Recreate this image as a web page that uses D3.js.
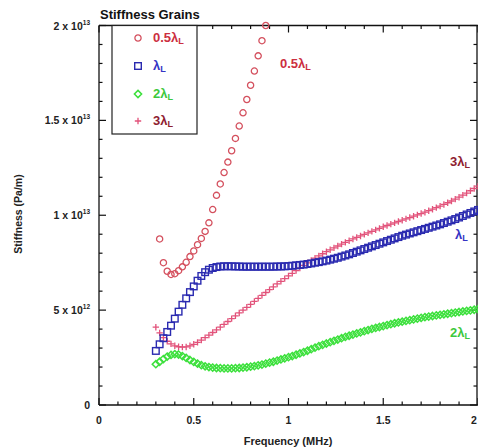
<!DOCTYPE html>
<html>
<head>
<meta charset="utf-8">
<script src="https://cdn.jsdelivr.net/npm/d3@7"></script>
<style>
  html, body { margin: 0; padding: 0; background: #fff; }
  svg { display: block; }
  text { font-family: "Liberation Sans", Arial, sans-serif; }
</style>
</head>
<body>
<svg id="chart" width="478" height="447"></svg>
<script>
// Stiffness in units of 10^12 Pa/m against frequency in MHz.
const freqs = [
  0.30, 0.32, 0.34, 0.36, 0.38, 0.40, 0.42, 0.44, 0.46, 0.48,
  0.50, 0.52, 0.54, 0.56, 0.58, 0.60, 0.62, 0.64, 0.66, 0.68,
  0.70, 0.72, 0.74, 0.76, 0.78, 0.80, 0.82, 0.84, 0.86, 0.88,
  0.90, 0.92, 0.94, 0.96, 0.98, 1.00, 1.02, 1.04, 1.06, 1.08,
  1.10, 1.12, 1.14, 1.16, 1.18, 1.20, 1.22, 1.24, 1.26, 1.28,
  1.30, 1.32, 1.34, 1.36, 1.38, 1.40, 1.42, 1.44, 1.46, 1.48,
  1.50, 1.52, 1.54, 1.56, 1.58, 1.60, 1.62, 1.64, 1.66, 1.68,
  1.70, 1.72, 1.74, 1.76, 1.78, 1.80, 1.82, 1.84, 1.86, 1.88,
  1.90, 1.92, 1.94, 1.96, 1.98, 2.00
];

// 0.5 lambda_L only covers the low-frequency end
const freqsHalf = [
  0.32, 0.34, 0.36, 0.38, 0.40, 0.42, 0.44, 0.46, 0.48, 0.50,
  0.52, 0.54, 0.56, 0.58, 0.60, 0.62, 0.64, 0.66, 0.68, 0.70,
  0.72, 0.74, 0.76, 0.78, 0.80, 0.82, 0.84, 0.86, 0.88
];
const halfLambda = [
  8.75, 7.50, 7.05, 6.88, 6.92, 7.08, 7.28, 7.52, 7.82, 8.12,
  8.45, 8.78, 9.15, 9.60, 10.30, 11.05, 11.65, 12.25, 12.80, 13.40,
  14.05, 14.70, 15.40, 16.10, 16.85, 17.60, 18.40, 19.20, 20.00
];

const oneLambda = [
  2.85, 3.20, 3.52, 3.85, 4.18, 4.55, 4.92, 5.28, 5.62, 5.95,
  6.25, 6.55, 6.80, 7.00, 7.13, 7.22, 7.27, 7.30, 7.31, 7.31,
  7.31, 7.30, 7.30, 7.29, 7.29, 7.29, 7.29, 7.29, 7.29, 7.29,
  7.29, 7.29, 7.30, 7.30, 7.31, 7.32, 7.34, 7.36, 7.38, 7.40,
  7.43, 7.46, 7.50, 7.53, 7.57, 7.61, 7.66, 7.71, 7.76, 7.82,
  7.88, 7.94, 8.01, 8.08, 8.15, 8.22, 8.29, 8.36, 8.43, 8.50,
  8.57, 8.64, 8.71, 8.78, 8.85, 8.92, 8.98, 9.04, 9.10, 9.16,
  9.22, 9.28, 9.34, 9.40, 9.46, 9.52, 9.59, 9.66, 9.73, 9.80,
  9.88, 9.96, 10.04, 10.12, 10.20, 10.28
];

const twoLambda = [
  2.15, 2.28, 2.42, 2.55, 2.64, 2.68, 2.66, 2.58, 2.48, 2.37,
  2.27, 2.18, 2.10, 2.04, 2.00, 1.97, 1.95, 1.94, 1.93, 1.93,
  1.93, 1.94, 1.95, 1.97, 1.99, 2.02, 2.05, 2.09, 2.13, 2.18,
  2.23, 2.28, 2.34, 2.40, 2.46, 2.52, 2.58, 2.65, 2.72, 2.79,
  2.86, 2.94, 3.02, 3.10, 3.17, 3.24, 3.31, 3.38, 3.45, 3.52,
  3.59, 3.65, 3.71, 3.77, 3.83, 3.89, 3.95, 4.01, 4.06, 4.11,
  4.16, 4.21, 4.26, 4.31, 4.35, 4.39, 4.43, 4.47, 4.51, 4.55,
  4.59, 4.63, 4.66, 4.69, 4.72, 4.75, 4.78, 4.81, 4.84, 4.87,
  4.90, 4.93, 4.96, 4.99, 5.02, 5.05
];

const threeLambda = [
  4.10, 3.80, 3.55, 3.36, 3.22, 3.12, 3.07, 3.05, 3.06, 3.12,
  3.20, 3.30, 3.42, 3.55, 3.68, 3.82, 3.96, 4.10, 4.25, 4.40,
  4.55, 4.70, 4.85, 5.00, 5.15, 5.30, 5.46, 5.62, 5.78, 5.93,
  6.08, 6.23, 6.38, 6.52, 6.66, 6.80, 6.94, 7.08, 7.22, 7.36,
  7.49, 7.62, 7.74, 7.86, 7.97, 8.08, 8.18, 8.28, 8.38, 8.48,
  8.57, 8.66, 8.75, 8.83, 8.91, 8.99, 9.07, 9.15, 9.23, 9.31,
  9.39, 9.46, 9.53, 9.60, 9.67, 9.74, 9.81, 9.88, 9.95, 10.02,
  10.09, 10.16, 10.24, 10.32, 10.40, 10.48, 10.57, 10.66, 10.75, 10.85,
  10.95, 11.06, 11.17, 11.29, 11.41, 11.53
];

const xMajorTicks = [0, 0.5, 1, 1.5, 2];
const xTickLabels = ["0", "0.5", "1", "1.5", "2"];
const yMajorTicks = [0, 5, 10, 15, 20];
const yTickMantissa = ["0", "5", "1", "1.5", "2"];
const yTickExponent = ["", "12", "13", "13", "13"];

const seriesNames = ["0.5", "", "2", "3"];

// ---------------------------------------------------------------
const svg = d3.select("#chart");
const x = d3.scaleLinear().domain([0, 2]).range([99, 478]);
const y = d3.scaleLinear().domain([0, 20]).range([405, 25.5]);

const colors = {
  half: "#d4505e",
  one: "#2a2ab0",
  two: "#3ce03c",
  three: "#e2527a"
};

// plot frame
const frame = svg.append("g").attr("stroke", "#111").attr("stroke-width", 1.3).attr("fill", "none");
frame.append("line").attr("x1", x(0)).attr("x2", x(0)).attr("y1", y(0)).attr("y2", y(20));
frame.append("line").attr("x1", x(0)).attr("x2", x(2)).attr("y1", y(0)).attr("y2", y(0));
frame.append("line").attr("x1", x(0)).attr("x2", x(2)).attr("y1", y(20)).attr("y2", y(20));
frame.append("line").attr("x1", x(2) - 1).attr("x2", x(2) - 1).attr("y1", y(0)).attr("y2", y(20));

// inward ticks on all four sides
const xMinor = d3.range(0, 2.0001, 0.1).filter(v => Math.abs(v * 2 - Math.round(v * 2)) > 1e-6);
const yMinor = d3.range(0, 20.0001, 1).filter(v => v % 5 !== 0);
const ticks = svg.append("g").attr("stroke", "#111").attr("stroke-width", 1.2);
function xTick(v, len) {
  ticks.append("line").attr("x1", x(v)).attr("x2", x(v)).attr("y1", y(0)).attr("y2", y(0) - len);
  ticks.append("line").attr("x1", x(v)).attr("x2", x(v)).attr("y1", y(20)).attr("y2", y(20) + len);
}
function yTick(v, len) {
  ticks.append("line").attr("x1", x(0)).attr("x2", x(0) + len).attr("y1", y(v)).attr("y2", y(v));
  ticks.append("line").attr("x1", x(2) - 1).attr("x2", x(2) - 1 - len).attr("y1", y(v)).attr("y2", y(v));
}
xMajorTicks.forEach(v => xTick(v, 7));
xMinor.forEach(v => xTick(v, 3.5));
yMajorTicks.forEach(v => yTick(v, 7));
yMinor.forEach(v => yTick(v, 3.5));

// tick labels (the last one sits right at the page edge)
svg.append("g").selectAll("text").data(xMajorTicks).join("text")
  .attr("x", d => Math.min(x(d), 474)).attr("y", 424)
  .attr("text-anchor", "middle")
  .attr("font-size", 10.5).attr("font-weight", "bold").attr("fill", "#222")
  .text((d, i) => xTickLabels[i]);

const yl = svg.append("g").selectAll("text").data(yMajorTicks).join("text")
  .attr("x", 90).attr("y", d => y(d) + 4)
  .attr("text-anchor", "end")
  .attr("font-size", 10.5).attr("font-weight", "bold").attr("fill", "#222");
yl.each(function (d, i) {
  const t = d3.select(this);
  if (yTickExponent[i] === "") {
    t.text(yTickMantissa[i]);
  } else {
    t.append("tspan").text(yTickMantissa[i] + " x 10");
    t.append("tspan").attr("dy", -5).attr("font-size", 6.5).text(yTickExponent[i]);
  }
});

// titles
svg.append("text").attr("x", 100).attr("y", 19)
  .attr("font-size", 13).attr("font-weight", "bold").attr("fill", "#111")
  .text("Stiffness Grains");
svg.append("text").attr("x", 288).attr("y", 445)
  .attr("text-anchor", "middle")
  .attr("font-size", 11).attr("font-weight", "bold").attr("fill", "#222")
  .text("Frequency (MHz)");
svg.append("text")
  .attr("transform", "translate(22,214) rotate(-90)")
  .attr("text-anchor", "middle")
  .attr("font-size", 10.5).attr("font-weight", "bold").attr("fill", "#222")
  .text("Stiffness (Pa/m)");

// marker shapes
const markers = {
  circle: (g, c) => g.append("circle").attr("r", 3.1).attr("fill", "none").attr("stroke", c).attr("stroke-width", 1.3),
  square: (g, c) => g.append("rect").attr("x", -3.3).attr("y", -3.3).attr("width", 6.6).attr("height", 6.6)
    .attr("fill", "none").attr("stroke", c).attr("stroke-width", 1.4),
  diamond: (g, c) => g.append("path").attr("d", "M0,-3.6L3.6,0L0,3.6L-3.6,0Z")
    .attr("fill", "none").attr("stroke", c).attr("stroke-width", 1.5),
  plus: (g, c) => g.append("path").attr("d", "M-3.2,0H3.2M0,-3.2V3.2")
    .attr("fill", "none").attr("stroke", c).attr("stroke-width", 1.3)
};

function drawSeries(xs, vals, shape, color) {
  const g = svg.append("g");
  vals.forEach((v, i) => {
    const m = g.append("g").attr("transform", `translate(${x(xs[i])},${y(v)})`);
    markers[shape](m, color);
  });
}

drawSeries(freqs, twoLambda, "diamond", colors.two);
drawSeries(freqs, threeLambda, "plus", colors.three);
drawSeries(freqs, oneLambda, "square", colors.one);
drawSeries(freqsHalf, halfLambda, "circle", colors.half);

// lambda labels written in a serif bold face with subscript L
function lambdaLabel(parent, px, py, prefix, color, size) {
  const t = parent.append("text").attr("x", px).attr("y", py)
    .attr("font-family", "'Liberation Serif', 'Times New Roman', serif")
    .attr("font-weight", "bold").attr("font-size", size).attr("fill", color);
  t.append("tspan").text(prefix + "λ");
  t.append("tspan").attr("dy", 2).attr("font-size", size * 0.7).text("L");
  return t;
}

// legend
const legend = svg.append("g");
legend.append("rect").attr("x", 112).attr("y", 25.5).attr("width", 85).attr("height", 108.5)
  .attr("fill", "#fff").attr("stroke", "#222").attr("stroke-width", 1.2);
const legendRows = [
  { shape: "circle", mark: colors.half, text: "#cc2f40" },
  { shape: "square", mark: colors.one, text: "#3434c4" },
  { shape: "diamond", mark: colors.two, text: "#3cc83c" },
  { shape: "plus", mark: colors.three, text: "#8e2030" }
];
const rowY = [38, 66, 94, 121];
legendRows.forEach((r, i) => {
  const m = legend.append("g").attr("transform", `translate(138,${rowY[i]})`);
  markers[r.shape](m, r.mark);
  lambdaLabel(legend, 153, rowY[i] + 4, seriesNames[i], r.text, 13);
});

// curve labels
lambdaLabel(svg, 280, 68, seriesNames[0], "#cc2f40", 13);
lambdaLabel(svg, 450, 166, seriesNames[3], "#8e2030", 13);
lambdaLabel(svg, 455, 239, seriesNames[1], "#3434c4", 13);
lambdaLabel(svg, 450, 337, seriesNames[2], "#3cc83c", 13);
</script>
</body>
</html>
